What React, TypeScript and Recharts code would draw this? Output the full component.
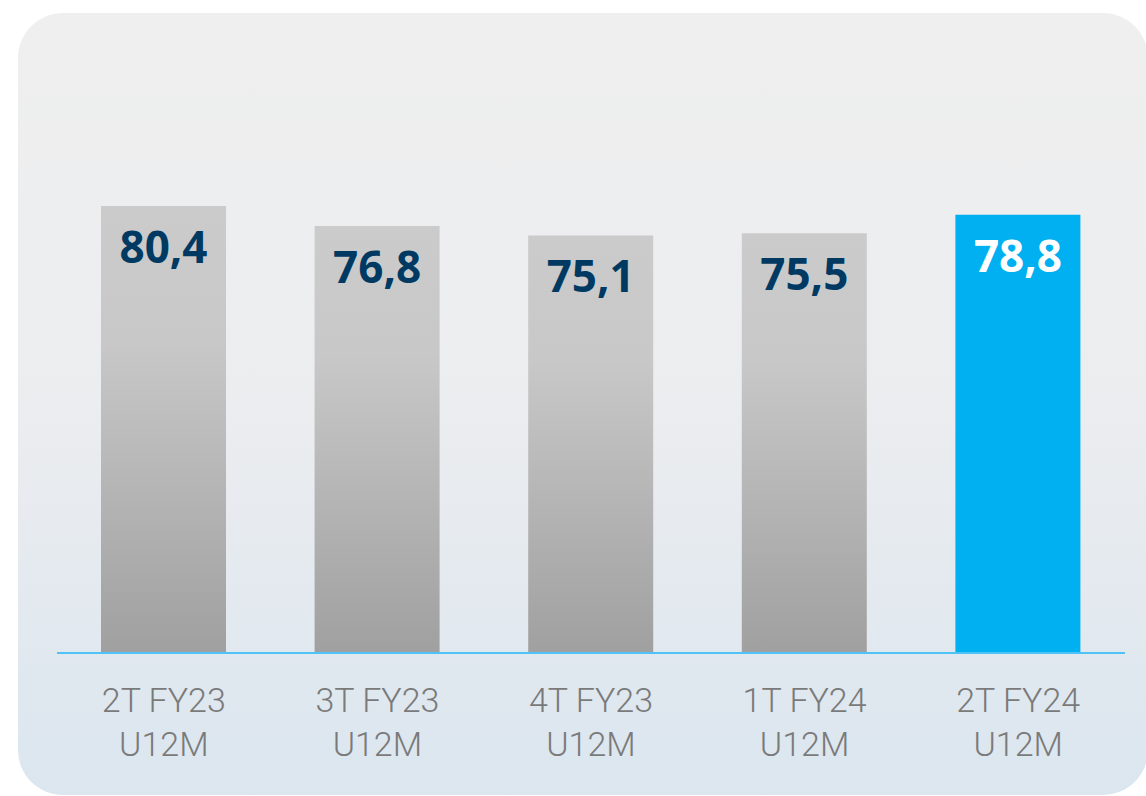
import React from 'react';
import { BarChart, Bar, XAxis, YAxis, Cell, LabelList } from 'recharts';

const categories = ['2T FY23\nU12M', '3T FY23\nU12M', '4T FY23\nU12M', '1T FY24\nU12M', '2T FY24\nU12M'];
const values = [80.4, 76.8, 75.1, 75.5, 78.8];
const highlightIndex = 4;

const data = categories.map((c, i) => ({ name: c, value: values[i] }));

const fmt = (v: number) => v.toFixed(1).replace('.', ',');

const CategoryTick = (props: any) => {
  const { x, y, payload } = props;
  const lines = String(payload.value).split('\n');
  return (
    <g>
      {lines.map((l, i) => (
        <text
          key={i}
          x={x}
          y={y + 59 + i * 44}
          textAnchor="middle"
          fontFamily="Roboto, 'Open Sans', sans-serif"
          fontWeight={300}
          fontSize={34}
          fill="#7a7a7a"
        >
          {l}
        </text>
      ))}
    </g>
  );
};

const ValueLabel = (props: any) => {
  const { x, y, width, value, index } = props;
  return (
    <text
      x={x + width / 2}
      y={y + 57}
      textAnchor="middle"
      fontFamily="'Open Sans', sans-serif"
      fontWeight={700}
      fontSize={44}
      fill={index === highlightIndex ? '#ffffff' : '#003a63'}
    >
      {fmt(value)}
    </text>
  );
};

export default function App() {
  return (
    <div style={{ position: 'absolute', left: 0, top: 0, width: 1146, height: 796, overflow: 'hidden', background: '#fff' }}>
      <div
        style={{
          position: 'absolute',
          left: 18,
          top: 13,
          width: 1130,
          height: 782,
          borderRadius: 45,
          background: 'linear-gradient(#efefef 0%, #ecedef 48%, #dbe6ef 100%)',
        }}
      />
      <div style={{ position: 'absolute', left: 0, top: 0 }}>
        <BarChart width={1146} height={796} data={data} margin={{ top: 97, right: 21, bottom: 0, left: 57 }}>
          <defs>
            <linearGradient id="grayBar" x1="0" y1="0" x2="0" y2="1">
              <stop offset="0%" stopColor="#cbcbcb" />
              <stop offset="30%" stopColor="#c8c8c8" />
              <stop offset="100%" stopColor="#a0a0a0" />
            </linearGradient>
          </defs>
          <YAxis hide domain={[0, 100]} />
          <XAxis
            dataKey="name"
            height={143}
            tickLine={false}
            tickSize={0}
            tickMargin={0}
            axisLine={{ stroke: '#4fc3f7', strokeWidth: 2 }}
            tick={<CategoryTick />}
            interval={0}
          />
          <Bar dataKey="value" barSize={125} isAnimationActive={false}>
            {data.map((d, i) => (
              <Cell key={d.name} fill={i === highlightIndex ? '#00b0f0' : 'url(#grayBar)'} />
            ))}
            <LabelList dataKey="value" content={<ValueLabel />} />
          </Bar>
        </BarChart>
      </div>
    </div>
  );
}
